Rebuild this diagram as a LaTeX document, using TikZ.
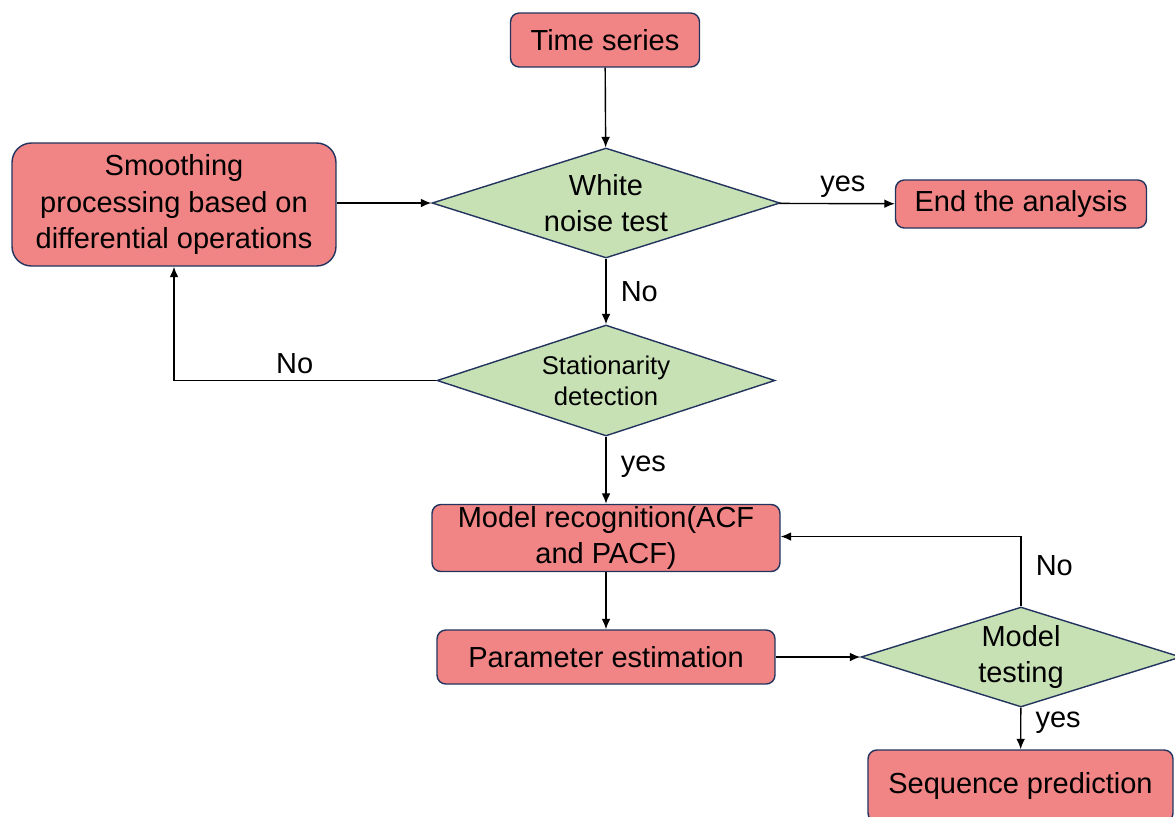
\documentclass[tikz,border=0pt]{standalone}
\usepackage{fontspec}
\setmainfont{Liberation Sans}
\usepackage{xcolor}
\usetikzlibrary{arrows.meta, shapes.geometric, positioning, calc}
\definecolor{boxred}{RGB}{241,133,133}
\definecolor{diagreen}{RGB}{199,225,181}
\definecolor{edgeblue}{RGB}{34,52,94}
\newcommand{\flowfont}[0]{\fontsize{16.5}{20.5}\selectfont}

\begin{document}
\begin{tikzpicture}[x=0.02cm, y=-0.02cm, >={Latex[length=6pt,width=5pt]},
                        procbox/.style={draw=edgeblue, line width=0.8pt, fill=boxred, rounded corners=5pt, align=center, inner sep=0pt, font=\flowfont},
                        testdia/.style={diamond, aspect=3.2, draw=edgeblue, line width=0.8pt, fill=diagreen, align=center, inner sep=0pt, font=\flowfont},
                        flow/.style={->, line width=0.8pt, black},
                        lbl/.style={font=\flowfont},
                        rlbl/.style={lbl, right, inner xsep=8pt}]
                        \useasboundingbox (0, 0) rectangle (1175, 816);
                        \node[procbox, minimum width=3.78cm, minimum height=1.08cm] (series) at (605, 40) {Time series};
                        \node[testdia, minimum width=6.96cm, minimum height=2.2cm] (white) at (606, 203) {White\\noise test};
                        \node[procbox, rounded corners=11pt, minimum width=6.48cm, minimum height=2.46cm] (smooth) at (174, 204.5) {Smoothing\\processing based on\\differential operations};
                        \node[procbox, minimum width=5.02cm, minimum height=0.96cm] (end) at (1021, 204) {End the analysis};
                        \node[testdia, minimum width=6.76cm, minimum height=2.22cm, font=\fontsize{14.6}{17.8}\selectfont] (station) at (606, 380.5) {Stationarity\\detection};
                        \node[procbox, minimum width=6.96cm, minimum height=1.34cm] (recog) at (606, 538) {Model recognition(ACF\\and PACF)};
                        \node[procbox, minimum width=6.76cm, minimum height=1.08cm] (param) at (606, 657) {Parameter estimation};
                        \node[testdia, minimum width=6.4cm, minimum height=2.0cm] (modtest) at (1021, 657) {Model\\testing};
                        \node[procbox, minimum width=6.1cm, minimum height=1.44cm] (predict) at (1020.5, 786) {Sequence prediction};
                        \draw[flow] (series) -- (white);
                        \draw[flow] (smooth.east |- white) -- (white);
                        \draw[flow] (white) -- node[lbl, above, pos=0.55] {yes} (end);
                        \draw[flow] (white) -- node[rlbl, pos=0.5] {No} (station);
                        \draw[flow] (station.west) -| node[lbl, above, pos=0.27] {No} (smooth.south);
                        \draw[flow] (station) -- node[rlbl, pos=0.45] {yes} (recog);
                        \draw[flow] (recog) -- (param);
                        \draw[flow] (param) -- (modtest);
                        \draw[flow] (modtest.north) |- node[rlbl, pos=0.29] {No} ($(recog.east)+(0,-1.5)$);
                        \draw[flow] (modtest) -- node[rlbl, pos=0.35] {yes} (predict);
                    \end{tikzpicture}
\end{document}
